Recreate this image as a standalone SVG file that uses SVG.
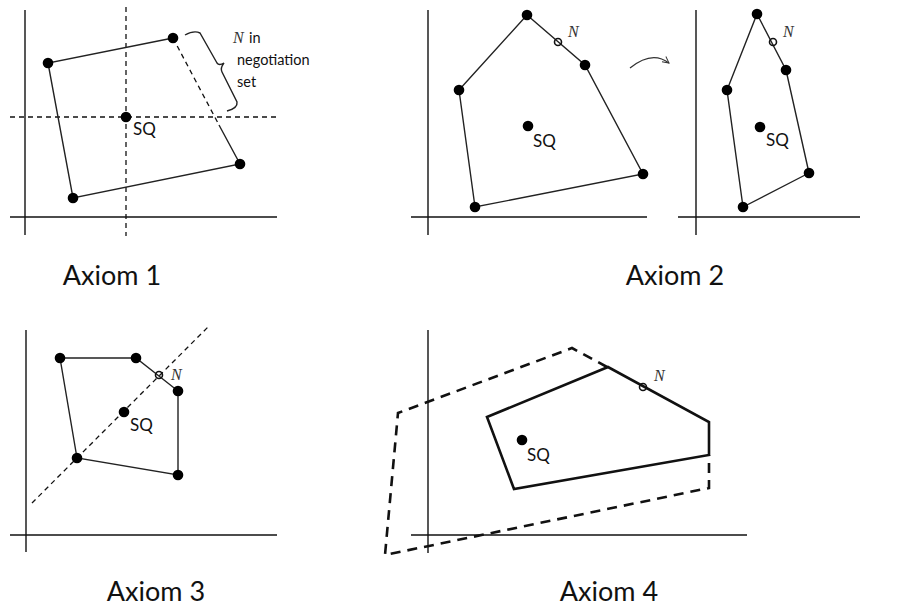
<svg xmlns="http://www.w3.org/2000/svg" width="902" height="606" viewBox="0 0 902 606">
<style>
.ax{stroke:#111;stroke-width:1.4;fill:none}
.poly{stroke:#222;stroke-width:1.4;fill:none}
.dash{stroke:#111;stroke-width:1.3;fill:none;stroke-dasharray:5,4}
.thick{stroke:#111;stroke-width:2.6;fill:none;stroke-linejoin:miter}
.thickdash{stroke:#111;stroke-width:2.6;fill:none;stroke-dasharray:10,7}
.pt{fill:#000}
.np{fill:none;stroke:#111;stroke-width:1.6}
.lbl{font-family:Lato,"Open Sans","Liberation Sans",sans-serif;fill:#111}
.sq{font-size:17px}
.cap{font-size:27px}
.n{font-family:"Liberation Serif","DejaVu Serif",serif;font-style:italic;font-size:16px;fill:#333}
.note{font-size:14.5px}
</style>
<defs>
<marker id="ah" viewBox="0 0 10 10" refX="9" refY="5" markerWidth="8" markerHeight="8" orient="auto" markerUnits="userSpaceOnUse">
<path d="M1,1 L9,5 L1,9" fill="none" stroke="#333" stroke-width="1.2"/>
</marker>
</defs>

<g id="panel1">
<line class="ax" x1="25" y1="10" x2="25" y2="235"/>
<line class="ax" x1="10" y1="217" x2="277" y2="217"/>
<line class="dash" x1="126" y1="7" x2="126" y2="236"/>
<line class="dash" x1="10" y1="117" x2="279" y2="117"/>
<polyline class="poly" points="219,125 240,164 73,198 48,63 173,38"/>
<line class="dash" x1="173" y1="38" x2="219" y2="125"/>
<circle class="pt" cx="48" cy="63" r="5.3"/>
<circle class="pt" cx="173" cy="38" r="5.3"/>
<circle class="pt" cx="240" cy="164" r="5.3"/>
<circle class="pt" cx="73" cy="198" r="5.3"/>
<circle class="pt" cx="126" cy="117" r="5.3"/>
<text class="lbl sq" x="133" y="135">SQ</text>
<path class="poly" d="M185,35 Q194,30 200,33 L217,63 Q219,66 224,63 Q220,68 222,72 L237,102 Q238,108 227,111"/>
<text class="n" x="233" y="43">N</text>
<text class="lbl note" x="249" y="43">in</text>
<text class="lbl note" x="237" y="65">negotiation</text>
<text class="lbl note" x="237" y="87">set</text>
</g>

<g id="panel2">
<line class="ax" x1="428" y1="10" x2="428" y2="235"/>
<line class="ax" x1="411" y1="217" x2="647" y2="217"/>
<polygon class="poly" points="527,15 585,65 643,174 475,207 459,90"/>
<circle class="pt" cx="527" cy="15" r="5.3"/>
<circle class="pt" cx="585" cy="65" r="5.3"/>
<circle class="pt" cx="643" cy="174" r="5.3"/>
<circle class="pt" cx="475" cy="207" r="5.3"/>
<circle class="pt" cx="459" cy="90" r="5.3"/>
<circle cx="558" cy="42" r="3.5" fill="#fff" class="np"/>
<text class="n" x="568" y="37">N</text>
<circle class="pt" cx="528" cy="126" r="5.3"/>
<text class="lbl sq" x="533" y="147">SQ</text>
</g>

<g id="panel2b">
<line class="ax" x1="696" y1="10" x2="696" y2="235"/>
<line class="ax" x1="678" y1="217" x2="860" y2="217"/>
<polygon class="poly" points="757,14 786,70 809,173 743,207 727,90"/>
<circle class="pt" cx="757" cy="14" r="5.3"/>
<circle class="pt" cx="786" cy="70" r="5.3"/>
<circle class="pt" cx="809" cy="173" r="5.3"/>
<circle class="pt" cx="743" cy="207" r="5.3"/>
<circle class="pt" cx="727" cy="90" r="5.3"/>
<circle cx="773" cy="42" r="3.5" fill="#fff" class="np"/>
<text class="n" x="783" y="37">N</text>
<circle class="pt" cx="760" cy="127" r="5.3"/>
<text class="lbl sq" x="766" y="146">SQ</text>
</g>

<g id="connectors">
<path d="M630,68 Q652,50 669,63" fill="none" stroke="#333" stroke-width="1.2" marker-end="url(#ah)"/>
</g>

<g id="panel3">
<line class="ax" x1="26" y1="330" x2="26" y2="552"/>
<line class="ax" x1="10" y1="535" x2="277" y2="535"/>
<line class="dash" x1="32" y1="503" x2="210" y2="325"/>
<polygon class="poly" points="60,358 136,358 178,391 178,475 77,458"/>
<circle class="pt" cx="60" cy="358" r="5.3"/>
<circle class="pt" cx="136" cy="358" r="5.3"/>
<circle class="pt" cx="178" cy="391" r="5.3"/>
<circle class="pt" cx="178" cy="475" r="5.3"/>
<circle class="pt" cx="77" cy="458" r="5.3"/>
<circle cx="159" cy="375" r="3.5" fill="#fff" class="np"/>
<text class="n" x="171" y="380">N</text>
<circle class="pt" cx="124" cy="412" r="5.3"/>
<text class="lbl sq" x="130" y="431">SQ</text>
</g>

<g id="panel4">
<line class="ax" x1="428" y1="330" x2="428" y2="553"/>
<line class="ax" x1="411" y1="535" x2="747" y2="535"/>
<polyline class="thickdash" points="607,367 572,348 398,413 385,555 709,488 709,455"/>
<polygon class="thick" points="487,417 608,367 709,422 709,455 514,489"/>
<circle cx="643" cy="387" r="3.5" fill="#fff" class="np"/>
<text class="n" x="654" y="381">N</text>
<circle class="pt" cx="522" cy="440" r="5.3"/>
<text class="lbl sq" x="527" y="461">SQ</text>
</g>

<g id="captions">
<text class="lbl cap" x="112" y="285" text-anchor="middle">Axiom 1</text>
<text class="lbl cap" x="675" y="285" text-anchor="middle">Axiom 2</text>
<text class="lbl cap" x="156" y="601" text-anchor="middle">Axiom 3</text>
<text class="lbl cap" x="609" y="601" text-anchor="middle">Axiom 4</text>
</g>
</svg>
